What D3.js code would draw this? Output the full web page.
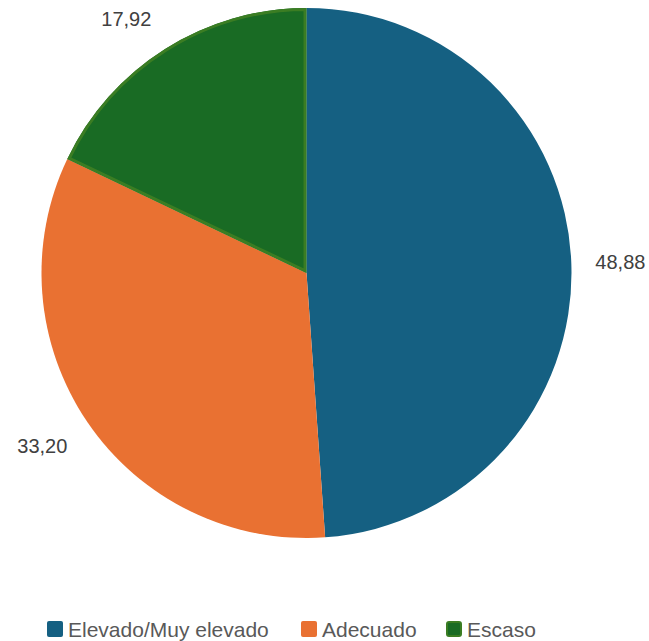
<!DOCTYPE html>
<html>
<head>
<meta charset="utf-8">
<script src="https://cdn.jsdelivr.net/npm/d3@7"></script>
<style>
  html, body { margin: 0; padding: 0; background: #ffffff; }
  svg { display: block; }
</style>
</head>
<body>
<svg id="chart" width="649" height="641"></svg>
<script>
// Shares by level (%)
const categories = ["Elevado/Muy elevado", "Adecuado", "Escaso"];
const values = [48.88, 33.20, 17.92];
const valueLabels = ["48,88", "33,20", "17,92"];
const fills = ["#156082", "#E97132", "#196B24"];
const borders = [null, null, "#3B7D23"];

const svg = d3.select("#chart");
const cx = 306.5, cy = 273, radius = 265;
const labelGap = 22;
const fontStack = "'Liberation Sans', Arial, sans-serif";

const data = categories.map((c, i) => ({ name: c, value: values[i], label: valueLabels[i], fill: fills[i], border: borders[i] }));

const pie = d3.pie().sort(null).value(d => d.value).startAngle(0).endAngle(2 * Math.PI);
const arcs = pie(data);
const arc = d3.arc().innerRadius(0).outerRadius(radius);
const anchorArc = d3.arc().innerRadius(radius + labelGap).outerRadius(radius + labelGap);

const defs = svg.append("defs");
const g = svg.append("g").attr("transform", `translate(${cx},${cy})`);

arcs.forEach((a, i) => {
  const path = arc(a);
  g.append("path").attr("d", path).attr("fill", a.data.fill);
  if (a.data.border) {
    // inner border: double-width stroke clipped to the slice itself
    const id = "clip-" + i;
    defs.append("clipPath").attr("id", id).append("path").attr("d", path);
    g.append("path")
      .attr("d", path)
      .attr("fill", "none")
      .attr("stroke", a.data.border)
      .attr("stroke-width", 6)
      .attr("clip-path", `url(#${id})`);
  }
});

// value labels: the label box sits just outside the rim, touching the
// anchor point on the slice's mid-angle ray
const clamp = v => Math.max(-1, Math.min(1, v));
g.selectAll("text.val")
  .data(arcs)
  .join("text")
  .attr("class", "val")
  .attr("text-anchor", "middle")
  .attr("dominant-baseline", "central")
  .attr("font-family", fontStack)
  .attr("font-size", 20)
  .attr("fill", "#404040")
  .text(d => d.data.label)
  .each(function(d) {
    const box = this.getBBox();
    const mid = (d.startAngle + d.endAngle) / 2;
    const [px, py] = anchorArc.centroid(d);
    const ox = clamp(Math.sin(mid) * 2) * (box.width / 2 + 2);
    const oy = -clamp(Math.cos(mid) * 2) * (box.height / 2);
    d3.select(this).attr("transform", `translate(${px + ox},${py + oy})`);
  });

// legend
const legendX = [47, 301, 446];
const legend = svg.append("g");
data.forEach((d, i) => {
  const lx = legendX[i];
  legend.append("rect")
    .attr("x", lx + (d.border ? 1 : 0)).attr("y", 621 + (d.border ? 1 : 0))
    .attr("width", d.border ? 14 : 16).attr("height", d.border ? 14 : 16)
    .attr("rx", 2)
    .attr("fill", d.fill)
    .attr("stroke", d.border || "none")
    .attr("stroke-width", d.border ? 2 : 0);
  legend.append("text")
    .attr("x", lx + 21).attr("y", 629)
    .attr("dominant-baseline", "central")
    .attr("font-family", fontStack)
    .attr("font-size", 21)
    .attr("fill", "#595959")
    .text(d.name);
});
</script>
</body>
</html>
